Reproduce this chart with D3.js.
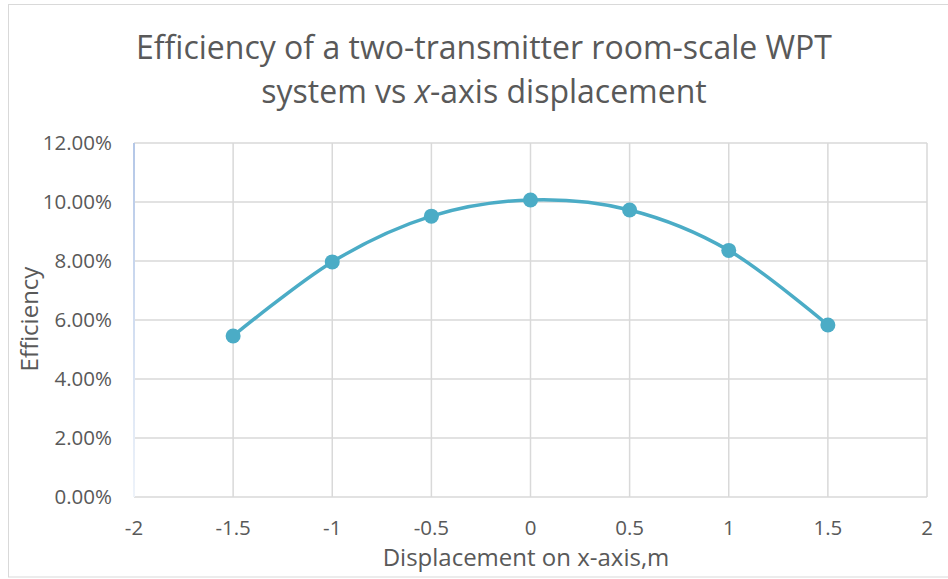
<!DOCTYPE html>
<html>
<head>
	<meta charset="UTF-8">
	<title>WPT efficiency</title>
	<script src="https://d3js.org/d3.v7.min.js"></script>
	<style>
		body { margin: 0; background: #fff; }
		text { font-family: "Open Sans", sans-serif; fill: #595959; }
	</style>
</head>
<body>
	<svg width="948" height="579"></svg>
	<script>
		// data
		var displacement = [-1.5, -1, -0.5, 0, 0.5, 1, 1.5];
		var efficiency = [0.0546, 0.0797, 0.0952, 0.1007, 0.0973, 0.0836, 0.0583];
		var xTicks = [-2, -1.5, -1, -0.5, 0, 0.5, 1, 1.5, 2];
		var yTicks = [0, 0.02, 0.04, 0.06, 0.08, 0.10, 0.12];

		var svg = d3.select("svg");
		var plotLeft = 134, plotRight = 927, plotTop = 143, plotBottom = 497;

		var x = d3.scaleLinear().domain([-2, 2]).range([plotLeft, plotRight]);
		var y = d3.scaleLinear().domain([0, 0.12]).range([plotBottom, plotTop]);

		// chart frame
		svg.append("rect")
			.attr("x", 8.5).attr("y", 4.5)
			.attr("width", 960).attr("height", 572.5)
			.attr("fill", "none")
			.attr("stroke", "#d9d9d9");

		// gridlines
		svg.selectAll(".hgrid")
			.data(yTicks)
			.enter()
			.append("line")
			.attr("class", "hgrid")
			.attr("x1", plotLeft).attr("x2", plotRight)
			.attr("y1", d => y(d)).attr("y2", d => y(d))
			.attr("stroke", "#d9d9d9")
			.attr("stroke-width", 1.5);

		svg.selectAll(".vgrid")
			.data(xTicks.slice(1))
			.enter()
			.append("line")
			.attr("class", "vgrid")
			.attr("x1", d => x(d)).attr("x2", d => x(d))
			.attr("y1", plotTop).attr("y2", plotBottom)
			.attr("stroke", "#d9d9d9")
			.attr("stroke-width", 1.5);

		// y axis line (light blue, fading toward the bottom)
		var grad = svg.append("defs").append("linearGradient")
			.attr("id", "fade").attr("x1", 0).attr("x2", 0).attr("y1", 0).attr("y2", 1);
		grad.append("stop").attr("offset", "0%").attr("stop-color", "#b4c7e7");
		grad.append("stop").attr("offset", "100%").attr("stop-color", "#eef3fa");
		svg.append("rect")
			.attr("x", plotLeft - 1).attr("y", plotTop)
			.attr("width", 2).attr("height", plotBottom - plotTop)
			.attr("fill", "url(#fade)");

		// tick labels
		svg.selectAll(".ylab")
			.data(yTicks)
			.enter()
			.append("text")
			.attr("class", "ylab")
			.attr("x", 112)
			.attr("y", d => y(d))
			.attr("dy", "0.35em")
			.attr("text-anchor", "end")
			.style("font-size", "20.5px")
			.text(d => d3.format(".2%")(d));

		svg.selectAll(".xlab")
			.data(xTicks)
			.enter()
			.append("text")
			.attr("class", "xlab")
			.attr("x", d => x(d))
			.attr("y", 528)
			.attr("dy", "0.35em")
			.attr("text-anchor", "middle")
			.style("font-size", "20.5px")
			.text(d => d);

		// series
		var pts = displacement.map((d, i) => [d, efficiency[i]]);
		var line = d3.line()
			.x(d => x(d[0]))
			.y(d => y(d[1]))
			.curve(d3.curveCardinal);

		svg.append("path")
			.datum(pts)
			.attr("d", line)
			.attr("fill", "none")
			.attr("stroke", "#4bacc6")
			.attr("stroke-width", 3.5);

		svg.selectAll(".dot")
			.data(pts)
			.enter()
			.append("circle")
			.attr("class", "dot")
			.attr("cx", d => x(d[0]))
			.attr("cy", d => y(d[1]))
			.attr("r", 7.5)
			.attr("fill", "#4bacc6");

		// titles
		var title = svg.append("text")
			.attr("text-anchor", "middle")
			.style("font-size", "32px");
		title.append("tspan").attr("x", 484).attr("y", 59)
			.text("Efficiency of a two-transmitter room-scale WPT");
		var t2 = title.append("tspan").attr("x", 484).attr("y", 103);
		t2.append("tspan").text("system vs ");
		t2.append("tspan").style("font-style", "italic").text("x");
		t2.append("tspan").text("-axis displacement");

		svg.append("text")
			.attr("x", 526)
			.attr("y", 558)
			.attr("dy", "0.35em")
			.attr("text-anchor", "middle")
			.style("font-size", "24px")
			.text("Displacement on x-axis,m");

		svg.append("text")
			.attr("transform", "translate(30,319) rotate(-90)")
			.attr("dy", "0.35em")
			.attr("text-anchor", "middle")
			.style("font-size", "24px")
			.text("Efficiency");
	</script>
</body>
</html>
